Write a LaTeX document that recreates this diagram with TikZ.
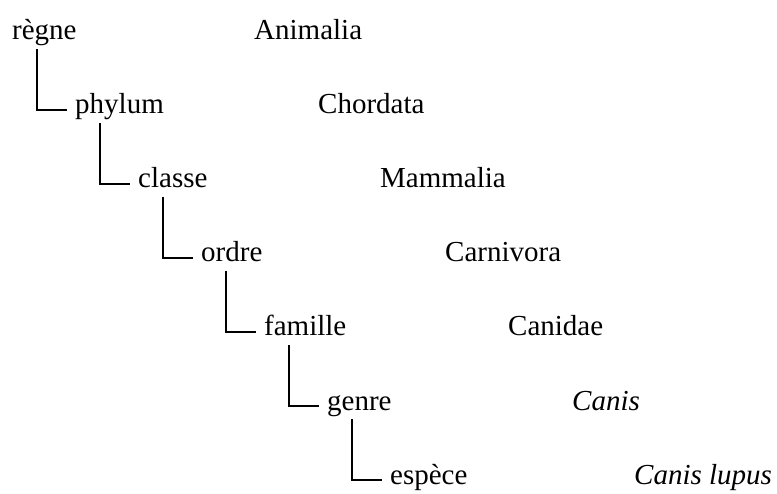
\documentclass[tikz,border=0pt]{standalone}
\usepackage{fontspec}
\setmainfont{Liberation Serif}
\usetikzlibrary{calc}
\begin{document}
\begin{tikzpicture}[x=1pt,y=-1pt,
  rank/.style={inner sep=0pt, anchor=base west, font=\fontsize{29}{33}\selectfont},
  taxon/.style={inner sep=0pt, anchor=base west, font=\fontsize{29}{33}\selectfont},
  link/.style={line width=1.6pt, line cap=butt}]
\useasboundingbox (0,0) rectangle (777,494);
\foreach \name/\lab [count=\i from 0] in {r0/règne,r1/phylum,r2/classe,r3/ordre,r4/famille,r5/genre,r6/espèce}{
  \node[rank] (\name) at (12+63*\i, 40+74*\i) {\lab};
}
\node[taxon] (t0) at (254,40) {Animalia};
\node[taxon] (t1) at (318,114) {Chordata};
\node[taxon] (t2) at (380,188) {Mammalia};
\node[taxon] (t3) at (445,262) {Carnivora};
\node[taxon] (t4) at (508,336) {Canidae};
\node[taxon] (t5) at (572,410) {\itshape Canis};
\node[taxon] (t6) at (634,484) {\itshape Canis lupus};
\foreach \a/\b in {r0/r1,r1/r2,r2/r3,r3/r4,r4/r5,r5/r6}{
  \draw[link] ($(\a.base west)+(25,9)$) |- ($(\b.base west)+(-8,-4)$);
}
\end{tikzpicture}
\end{document}
